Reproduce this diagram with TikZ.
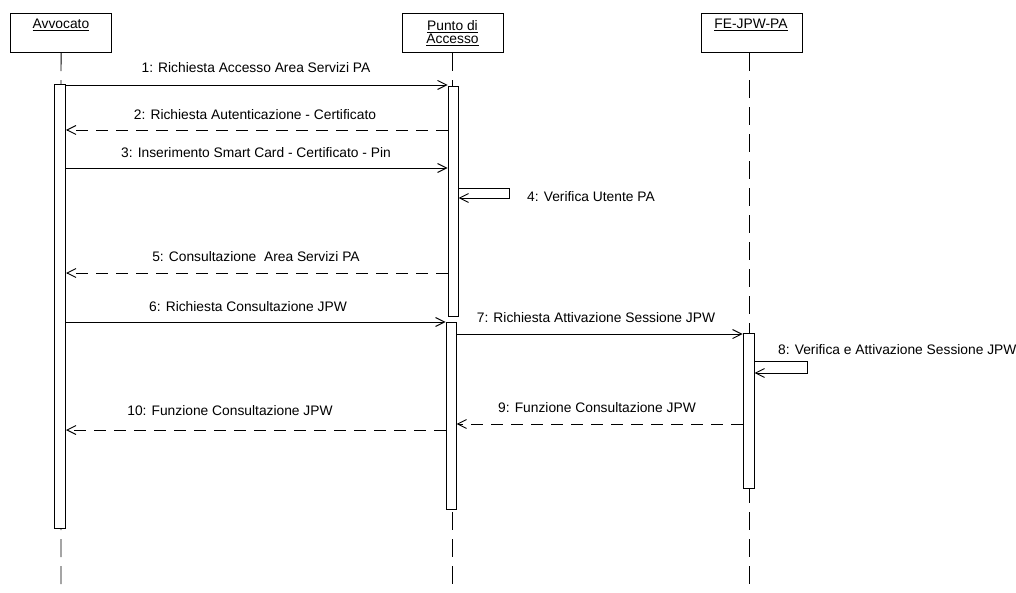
\documentclass[tikz,border=0pt]{standalone}
\usepackage{fontspec}
\setmainfont{Liberation Sans}
\usetikzlibrary{arrows.meta}
\begin{document}
\begin{tikzpicture}[x=1pt,y=-1pt,
  every node/.style={font=\fontsize{13.8}{15}\selectfont},
  head/.style={draw,line width=1.1pt,minimum width=101pt,minimum height=39pt,anchor=north west,inner sep=0pt},
  lifeline/.style={line width=0.9pt,dash pattern=on 18pt off 9pt},
  bar/.style={draw,fill=white,line width=1pt,inner sep=0pt},
  msg/.style={line width=0.9pt,-{Straight Barb[length=9pt,width=9pt,line width=0.9pt]}},
  reply/.style={msg,dash pattern=on 12pt off 8pt},
  lbl/.style={inner sep=0pt}]
\useasboundingbox (0,0) rectangle (1016,593);
% heads
\node[head] (av) at (10,13) {};
\node[head] (pa) at (402,13) {};
\node[head] (fe) at (701,13) {};
\node at (61,25) {\underline{Avvocato}};
\node[align=center] at (452.5,33) {\underline{Punto di}\\[-2pt]\underline{Accesso}};
\node at (751,25) {\underline{FE-JPW-PA}};
% lifelines
\coordinate (avend) at (61,593);
\coordinate (paend) at (452,593);
\coordinate (feend) at (749,593);
\draw[lifeline] (av.south) -- (avend);
\draw[lifeline] (pa.south -| paend) -- (paend);
\draw[lifeline] (fe.south -| feend) -- (feend);
% activation bars
\node[bar,minimum width=11pt,minimum height=444pt,anchor=north] (av1) at (60,84) {};
\node[bar,minimum width=10pt,minimum height=230pt,anchor=north] (pa1) at (453,86) {};
\node[bar,minimum width=10pt,minimum height=187pt,anchor=north] (pa2) at (451,322) {};
\node[bar,minimum width=11pt,minimum height=155pt,anchor=north] (fe1) at (748.5,333) {};
% message rows
\coordinate (m1) at (0,85);
\coordinate (m2) at (0,130);
\coordinate (m3) at (0,168);
\coordinate (m4a) at (0,188);
\coordinate (m4b) at (0,198);
\coordinate (m5) at (0,273);
\coordinate (m6) at (0,322);
\coordinate (m7) at (0,334);
\coordinate (m8a) at (0,361);
\coordinate (m8b) at (0,373);
\coordinate (m9) at (0,424);
\coordinate (m10) at (0,430);
\coordinate (loop4) at (509,0);
\coordinate (loop8) at (807,0);
% messages
\draw[msg] (av1.east |- m1) -- (pa1.west |- m1);
\draw[reply] (pa1.west |- m2) -- (av1.east |- m2);
\draw[msg] (av1.east |- m3) -- (pa1.west |- m3);
\draw[msg] (pa1.east |- m4a) -- (loop4 |- m4a) -- (loop4 |- m4b) -- (pa1.east |- m4b);
\draw[reply] (pa1.west |- m5) -- (av1.east |- m5);
\draw[msg] (av1.east |- m6) -- (pa2.west |- m6);
\draw[msg] (pa2.east |- m7) -- (fe1.west |- m7);
\draw[msg] (fe1.east |- m8a) -- (loop8 |- m8a) -- (loop8 |- m8b) -- (fe1.east |- m8b);
\draw[reply] (fe1.west |- m9) -- (pa2.east |- m9);
\draw[reply] (pa2.west |- m10) -- (av1.east |- m10);
% labels
\node[lbl] (l1) at (256,68) {1: Richiesta Accesso Area Servizi PA};
\node[lbl] (l2) at (255,115) {2: Richiesta Autenticazione - Certificato};
\node[lbl] (l3) at (256,153) {3: Inserimento Smart Card - Certificato - Pin};
\node[lbl,anchor=west] (l4) at (527,197) {4: Verifica Utente PA};
\node[lbl] (l5) at (256,257) {5: Consultazione\ \ Area Servizi PA};
\node[lbl] (l6) at (248,307) {6: Richiesta Consultazione JPW};
\node[lbl] (l7) at (596,318) {7: Richiesta Attivazione Sessione JPW};
\node[lbl,anchor=west] (l8) at (778,350) {8: Verifica e Attivazione Sessione JPW};
\node[lbl] (l9) at (597,408) {9: Funzione Consultazione JPW};
\node[lbl] (l10) at (230,411) {10: Funzione Consultazione JPW};
\end{tikzpicture}
\end{document}
